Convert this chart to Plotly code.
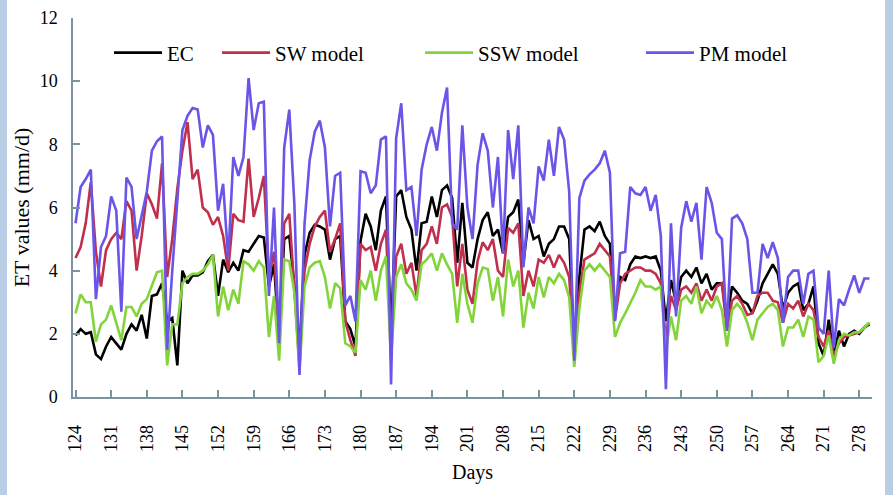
import plotly.graph_objects as go

days = list(range(124, 281))

ec = [1.95, 2.15, 2.0, 2.05, 1.35, 1.2, 1.6, 1.9, 1.7, 1.5, 2.0, 2.3, 2.1, 2.6, 1.85, 3.2, 3.25, 3.6, 2.4, 2.5, 1.0, 4.0, 3.6, 3.85, 3.85, 3.95, 4.3, 4.5,
      3.2, 4.35, 3.95, 4.25, 4.0, 4.65, 4.6, 4.85, 5.1, 5.05, 3.5, 4.2, 1.8, 5.0, 5.1, 3.5, 1.5, 4.5, 5.2, 5.45, 5.4, 5.3, 4.35, 5.0, 5.1, 2.4, 2.15, 1.6,
      4.95, 5.8, 5.4, 4.65, 5.9, 6.35, 2.0, 6.35, 6.55, 5.7, 5.3, 4.0, 5.5, 5.55, 6.35, 5.7, 6.55, 6.7, 6.3, 4.25, 6.15, 4.25, 4.1, 5.0, 5.6,
      5.85, 5.1, 5.3, 4.55, 5.7, 5.85, 6.25, 4.25, 5.6, 5.0, 5.1, 4.45, 4.85, 5.0, 5.4, 5.4, 5.0, 1.5, 3.8, 5.3, 5.4, 5.25, 5.55, 5.1, 4.85, 2.6,
      3.8, 3.7, 4.2, 4.45, 4.4, 4.45, 4.4, 4.45, 4.0, 2.4, 3.7, 3.0, 3.8, 4.0, 3.8, 4.1, 3.6, 3.9, 3.4, 3.6, 3.6, 2.5, 3.5, 3.3, 3.05, 2.95,
      2.65, 3.05, 3.6, 3.9, 4.2, 3.9, 2.8, 3.3, 3.5, 3.6, 2.75, 2.95, 3.5, 1.7, 1.3, 2.45, 1.3, 2.1, 1.6, 2.0, 2.1, 2.0, 2.2, 2.3]

sw = [4.4, 4.75, 5.5, 6.8, 4.6, 3.5, 4.65, 5.0, 5.2, 5.0, 6.2, 5.9, 4.0, 5.1, 6.45, 6.1, 5.65, 7.4, 3.8, 5.0, 6.6, 7.8, 8.7, 6.9, 7.2, 6.0, 5.85, 5.45,
      5.7, 5.1, 4.0, 5.8, 5.6, 5.55, 7.55, 5.7, 6.3, 7.0, 3.8, 4.6, 2.0, 5.5, 5.8, 3.5, 1.0, 4.0, 4.85, 5.4, 5.7, 5.9, 4.6, 5.0, 5.5, 2.4, 1.8, 1.3,
      4.85, 4.65, 4.75, 4.0, 4.85, 5.3, 1.5, 4.45, 4.85, 3.9, 4.25, 3.2, 4.65, 4.85, 5.4, 4.85, 6.0, 6.1, 5.7, 3.5, 4.85, 3.4, 2.95, 4.3, 4.9,
      4.65, 5.0, 4.0, 3.8, 5.35, 5.2, 5.5, 3.2, 4.0, 3.5, 4.35, 4.25, 4.5, 4.1, 4.5, 4.25, 3.8, 1.4, 3.3, 4.35, 4.45, 4.55, 4.85, 4.65, 4.45, 2.45,
      3.6, 3.9, 4.0, 4.1, 4.1, 4.0, 4.0, 3.9, 3.6, 1.8, 3.2, 2.75, 3.4, 3.5, 3.3, 3.6, 3.05, 3.4, 3.05, 3.5, 3.6, 2.1, 3.05, 3.2, 2.95, 2.6,
      2.65, 3.2, 3.3, 3.3, 3.05, 3.0, 2.35, 2.95, 2.8, 3.05, 2.55, 2.95, 2.75, 1.9, 1.6, 2.1, 1.3, 1.7, 1.9, 1.95, 2.0, 2.05, 2.2, 2.35]

ssw = [2.65, 3.25, 3.0, 3.0, 1.75, 2.3, 2.45, 2.9, 2.35, 1.8, 2.85, 2.85, 2.55, 2.95, 3.1, 3.5, 3.95, 4.0, 1.0, 2.3, 2.3, 3.6, 3.8, 3.9, 3.9, 4.0, 4.2, 4.5,
       2.55, 3.5, 2.75, 3.4, 2.95, 4.3, 4.2, 4.0, 4.3, 4.1, 1.9, 3.2, 1.15, 4.35, 4.3, 3.3, 0.8, 3.5, 4.1, 4.25, 4.3, 3.8, 2.8, 3.6, 3.45, 1.7, 1.6, 1.4,
       3.7, 3.4, 4.0, 3.05, 4.0, 4.45, 1.2, 3.8, 4.2, 3.6, 3.4, 3.05, 4.2, 4.35, 4.55, 4.0, 4.55, 4.2, 3.9, 2.35, 3.9, 2.95, 2.35, 3.6, 4.1,
       4.05, 3.05, 3.8, 2.55, 4.35, 3.5, 4.0, 2.2, 3.3, 2.8, 3.8, 3.15, 3.8, 3.6, 3.9, 3.7, 3.15, 0.95, 2.8, 4.0, 4.2, 4.0, 4.2, 4.0, 3.8, 1.9,
       2.35, 2.65, 2.95, 3.3, 3.7, 3.5, 3.5, 3.4, 3.5, 1.5, 2.55, 1.8, 3.05, 3.2, 2.95, 3.5, 2.65, 3.05, 2.85, 3.2, 2.75, 1.6, 2.75, 2.95, 2.75, 2.35,
       1.8, 2.45, 2.65, 2.85, 2.95, 2.75, 1.6, 2.2, 2.2, 2.45, 1.9, 2.55, 2.45, 1.1, 1.3, 1.95, 1.05, 1.8, 2.0, 1.95, 2.05, 2.05, 2.2, 2.35]

pm = [5.5, 6.65, 6.9, 7.2, 3.1, 4.75, 5.1, 6.35, 5.9, 2.7, 6.95, 6.65, 5.0, 5.8, 6.5, 7.8, 8.1, 8.25, 1.5, 4.0, 6.4, 8.45, 8.9, 9.15, 9.1, 7.9, 8.6, 8.3,
      5.9, 6.75, 4.35, 7.6, 7.0, 7.6, 10.1, 8.45, 9.3, 9.35, 3.2, 6.0, 1.7, 7.9, 9.1, 6.1, 0.7, 5.5, 7.5, 8.4, 8.75, 7.9, 5.4, 7.0, 7.1, 2.9, 3.2, 2.4,
      7.15, 7.1, 6.45, 6.7, 8.15, 8.25, 0.4, 8.2, 9.3, 6.55, 6.65, 5.1, 7.2, 8.0, 8.55, 7.8, 9.0, 9.8, 5.5, 5.3, 8.6, 6.0, 5.0, 7.35, 8.35,
      7.8, 6.0, 7.6, 4.55, 8.45, 6.9, 8.6, 4.1, 6.0, 5.5, 7.3, 6.85, 8.15, 7.0, 8.55, 8.15, 6.5, 1.15, 6.3, 6.85, 7.05, 7.2, 7.4, 7.8, 7.1, 2.4,
      4.55, 4.6, 6.65, 6.45, 6.4, 6.65, 5.9, 6.4, 5.1, 0.25, 5.5, 2.55, 5.35, 6.2, 5.55, 6.15, 4.35, 6.65, 6.15, 5.2, 5.0, 2.1, 5.65, 5.75, 5.5, 5.0,
      3.3, 3.3, 4.85, 4.4, 4.9, 4.4, 2.35, 3.8, 4.0, 4.0, 2.95, 3.9, 4.0, 2.2, 2.0, 4.0, 1.55, 3.1, 2.9, 3.4, 3.85, 3.3, 3.75, 3.75]

tick_days = list(range(124, 279, 7))
tick_text = [str(d) for d in tick_days]

series = [
    ("EC", ec, "#000000", "legend"),
    ("SW model", sw, "#c0304c", "legend2"),
    ("SSW model", ssw, "#82d43a", "legend3"),
    ("PM model", pm, "#6a55e8", "legend4"),
]

fig = go.Figure()
for name, vals, col, lg in series:
    fig.add_trace(go.Scatter(x=days, y=vals, mode="lines", name=name, showlegend=True,
                             line=dict(color=col, width=2.6), legend=lg))

font_family = "Liberation Serif, Times New Roman, serif"
axis_col = "#7b939f"

L, R, T, B = 73, 21, 18, 98
PW = 893 - L - R
PH = 495 - T - B


def legend_at(xpix):
    return dict(x=(xpix - L) / PW, y=1 - (53 - T) / PH, xanchor="left", yanchor="middle",
                orientation="h", bgcolor="rgba(0,0,0,0)", borderwidth=0,
                font=dict(family=font_family, size=21, color="#000000"), itemwidth=48)


fig.update_layout(
    width=893, height=495,
    margin=dict(l=L, r=R, t=T, b=B, autoexpand=False),
    showlegend=True,
    paper_bgcolor="#ffffff", plot_bgcolor="#ffffff",
    font=dict(family=font_family, size=19, color="#000000"),
    legend=legend_at(109),
    legend2=legend_at(217),
    legend3=legend_at(420),
    legend4=legend_at(641),
    xaxis=dict(range=[123.5, 280.5], showgrid=False, zeroline=False, automargin=False,
               showline=True, linecolor=axis_col, linewidth=1.5,
               tickmode="array", tickvals=tick_days, ticktext=tick_text,
               tickangle=-90, ticks="inside", ticklen=7, tickcolor=axis_col, tickwidth=1.5,
               tickfont=dict(family=font_family, size=18, color="#000000"),
               ticklabelstandoff=19,
               title=dict(text="Days", font=dict(family=font_family, size=20), standoff=14)),
    yaxis=dict(range=[0, 12], dtick=2, showgrid=False, zeroline=False, automargin=False,
               showline=True, linecolor=axis_col, linewidth=1.5,
               ticks="inside", ticklen=7, tickcolor=axis_col, tickwidth=1.5,
               tickfont=dict(family=font_family, size=18, color="#000000"),
               ticklabelstandoff=10,
               title=dict(text="ET values (mm/d)", font=dict(family=font_family, size=22), standoff=4)),
    shapes=[
        dict(type="rect", xref="paper", yref="paper", x0=-L / PW, x1=(7 - L) / PW,
             y0=-B / PH, y1=1 + T / PH, fillcolor="#b9cde4", line=dict(width=0), layer="below"),
        dict(type="rect", xref="paper", yref="paper", x0=(885 - L) / PW, x1=(893 - L) / PW,
             y0=-B / PH, y1=1 + T / PH, fillcolor="#b9cde4", line=dict(width=0), layer="below"),
    ],
)

fig.write_html("out.html", config={"displayModeBar": False},
               post_script="document.body.style.margin='0';document.body.style.padding='0';document.body.style.overflow='hidden';")
